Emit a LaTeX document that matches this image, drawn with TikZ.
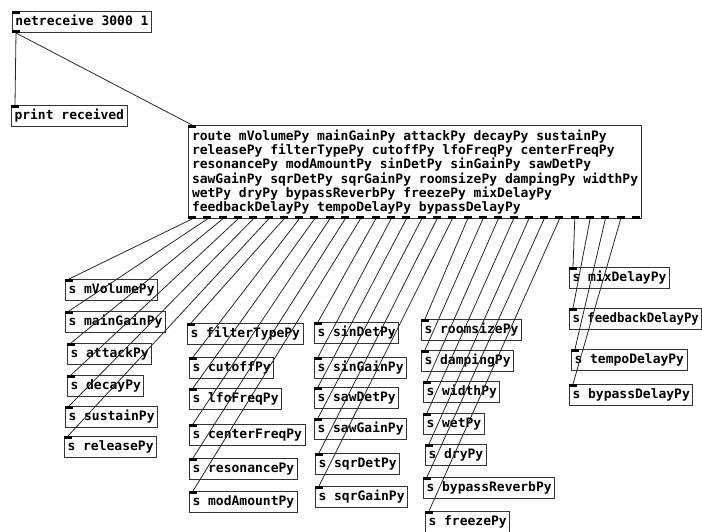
\documentclass[tikz,border=0pt]{standalone}
\usepackage{fontspec}
\newfontfamily\pdfont{DejaVu Sans Mono}
\usetikzlibrary{calc}
\begin{document}
\begin{tikzpicture}[x=1pt,y=-1pt,
  pdfnt/.style={font=\pdfont\bfseries\fontsize{13}{14.3}\selectfont},
  obj/.style={pdfnt, draw=black!80, line width=1pt, anchor=north west,
    inner xsep=3pt, inner ysep=0pt, minimum height=21pt,
    text height=10pt, text depth=3pt},
  wire/.style={draw=black!85, line width=0.8pt},
  port/.style={fill=black}]
\useasboundingbox (0,0) rectangle (702,532);

% network input and its console echo
\node[obj] (net) at (12,11) {netreceive 3000 1};
\node[obj] (prn) at (11,105) {print received};

% the big router
\node[pdfnt, draw=black!80, line width=1pt, anchor=north west, align=left,
      inner xsep=3.5pt, inner ysep=4pt, minimum height=93pt] (route) at (188,125)
 {route mVolumePy mainGainPy attackPy decayPy sustainPy\\
  releasePy filterTypePy cutoffPy lfoFreqPy centerFreqPy\\
  resonancePy modAmountPy sinDetPy sinGainPy sawDetPy\\
  sawGainPy sqrDetPy sqrGainPy roomsizePy dampingPy widthPy\\
  wetPy dryPy bypassReverbPy freezePy mixDelayPy\\
  feedbackDelayPy tempoDelayPy bypassDelayPy};

% send objects, one per route outlet
\foreach \i/\x/\y/\t in {
  0/65/279/mVolumePy, 1/65/311/mainGainPy, 2/67/343/attackPy,
  3/67/375/decayPy, 4/65/406/sustainPy, 5/64/436/releasePy,
  6/187/323/filterTypePy, 7/189/357/cutoffPy, 8/189/388/lfoFreqPy,
  9/189/424/centerFreqPy, 10/189/458/resonancePy, 11/189/491/modAmountPy,
  12/314/322/sinDetPy, 13/314/357/sinGainPy, 14/314/387/sawDetPy,
  15/314/418/sawGainPy, 16/315/453/sqrDetPy, 17/315/486/sqrGainPy,
  18/421/319/roomsizePy, 19/421/350/dampingPy, 20/423/381/widthPy,
  21/423/413/wetPy, 22/425/444/dryPy, 23/423/477/bypassReverbPy,
  24/425/511/freezePy,
  25/569/267/mixDelayPy,
  27/571/349/tempoDelayPy, 28/569/384/bypassDelayPy}
{
  \node[obj] (n\i) at (\x,\y) {s \t};
}
% this one sits at the right edge, so its text is set a little narrower
\node[obj] (n26) at (569,308) {\scalebox{0.95}[1]{s feedbackDelayPy}};

\foreach \i in {0,...,28}{
  \fill[port] (n\i.north west) rectangle ++(8,3);
  \coordinate (in\i) at ($(n\i.north west)+(4,0)$);
}

% inlets and outlets
\fill[port] (net.north west) rectangle ++(8,3);
\fill[port] (net.south west) rectangle ++(8,-3);
\fill[port] (prn.north west) rectangle ++(8,3);
\fill[port] (route.north west) rectangle ++(8,3);
\foreach \i in {0,...,29}{
  \fill[port] ($(route.south west)+(\i*15.31,0)$) rectangle ++(8,-3);
  \coordinate (r\i) at ($(route.south west)+(\i*15.31+4,0)$);
}

% connections
\coordinate (netout) at ($(net.south west)+(4,0)$);
\draw[wire] (netout) -- ($(prn.north west)+(4,0)$);
\draw[wire] (netout) -- ($(route.north west)+(4,0)$);
\foreach \i in {0,...,28}{
  \draw[wire] (r\i) -- (in\i);
}
\end{tikzpicture}
\end{document}
